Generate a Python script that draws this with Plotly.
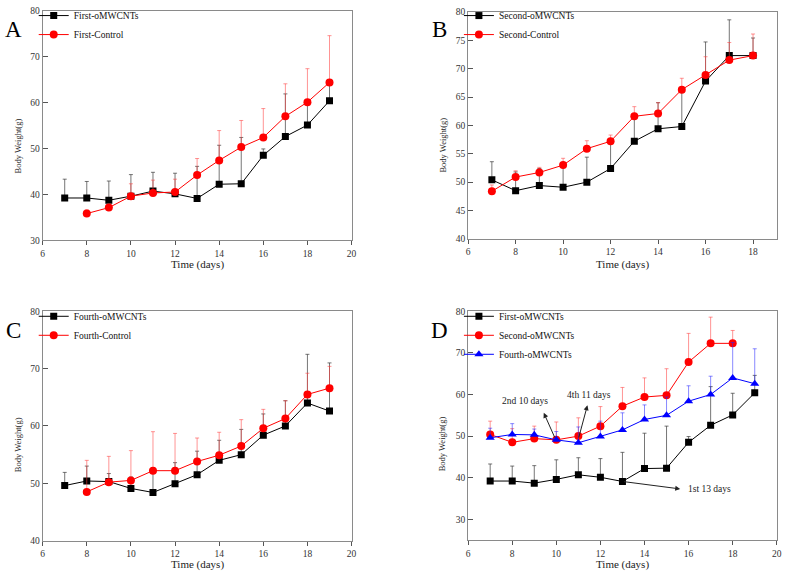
import plotly.graph_objects as go

# ---------------- data ----------------
days_7_19 = [7, 8, 9, 10, 11, 12, 13, 14, 15, 16, 17, 18, 19]
days_8_19 = [8, 9, 10, 11, 12, 13, 14, 15, 16, 17, 18, 19]
days_7_18 = [7, 8, 9, 10, 11, 12, 13, 14, 15, 16, 17, 18]

first_omwcnts = [39.2, 39.2, 38.7, 39.6, 40.7, 40.1, 39.1, 42.2, 42.3, 48.5, 52.6, 55.1, 60.4]
first_omwcnts_err = [4.1, 3.6, 4.2, 4.7, 4.1, 4.5, 7.0, 8.5, 10.1, 1.4, 9.3, 5.2, 4.2]
first_control = [35.8, 37.1, 39.6, 40.3, 40.5, 44.2, 47.4, 50.3, 52.4, 57.0, 60.1, 64.4]
first_control_err = [0.8, 0.7, 2.7, 2.8, 2.8, 3.6, 6.5, 5.8, 6.3, 7.1, 7.3, 10.2]

second_omwcnts = [50.4, 48.5, 49.4, 49.1, 50.0, 52.4, 57.2, 59.4, 59.8, 67.8, 72.3, 72.3]
second_omwcnts_err = [3.2, 3.3, 3.0, 4.3, 4.4, 4.7, 4.5, 4.6, 6.4, 6.9, 6.3, 3.1]
second_control = [48.4, 50.9, 51.7, 53.0, 55.9, 57.2, 61.6, 62.1, 66.3, 68.9, 71.5, 72.3]
second_control_err = [1.1, 1.1, 0.9, 1.2, 1.4, 1.1, 1.7, 1.9, 2.0, 3.2, 3.1, 3.8]

fourth_omwcnts = [49.6, 50.4, 50.3, 49.1, 48.4, 49.9, 51.5, 54.0, 55.0, 58.4, 60.0, 64.0, 62.6]
fourth_omwcnts_err = [2.3, 2.6, 1.4, 2.0, 3.8, 3.7, 4.1, 3.5, 4.4, 3.7, 4.4, 8.5, 8.4]
fourth_control = [48.5, 50.2, 50.5, 52.2, 52.2, 53.8, 54.9, 56.5, 59.6, 61.3, 65.5, 66.6]
fourth_control_err = [5.5, 4.5, 5.2, 6.8, 6.5, 4.1, 4.0, 4.6, 3.3, 3.1, 3.7, 3.8]

panel_letters = ["A", "B", "C", "D"]
x_title = "Time (days)"
y_title = "Body Weight(g)"

# ---------------- style ----------------
SERIF = "Liberation Serif"
BLACK, RED, BLUE = "#000000", "#ff0000", "#0000ff"
ERR_COL = {BLACK: "rgba(60,60,60,0.7)", RED: "rgba(255,60,60,0.55)", BLUE: "rgba(40,40,255,0.55)"}
SYM = {BLACK: "square", RED: "circle", BLUE: "triangle-up"}
MSIZE = {BLACK: 7, RED: 8, BLUE: 8}


def series(x, y, err, name, color, ax, legend):
    return go.Scatter(
        x=x, y=y, name=name, mode="lines+markers",
        xaxis="x" + ax, yaxis="y" + ax, legend=legend,
        line=dict(color=color, width=1),
        marker=dict(symbol=SYM[color], size=MSIZE[color], color=color,
                    line=dict(width=0)),
        error_y=dict(type="data", array=err, arrayminus=[0] * len(err),
                     symmetric=False, color=ERR_COL[color], thickness=1, width=2),
    )


fig = go.Figure()
fig.add_trace(series(days_7_19, first_omwcnts, first_omwcnts_err, "First-oMWCNTs", BLACK, "", "legend"))
fig.add_trace(series(days_8_19, first_control, first_control_err, "First-Control", RED, "", "legend"))
fig.add_trace(series(days_7_18, second_omwcnts, second_omwcnts_err, "Second-oMWCNTs", BLACK, "2", "legend2"))
fig.add_trace(series(days_7_18, second_control, second_control_err, "Second-Control", RED, "2", "legend2"))
fig.add_trace(series(days_7_19, fourth_omwcnts, fourth_omwcnts_err, "Fourth-oMWCNTs", BLACK, "3", "legend3"))
fig.add_trace(series(days_8_19, fourth_control, fourth_control_err, "Fourth-Control", RED, "3", "legend3"))
fig.add_trace(series(days_7_19, first_omwcnts, first_omwcnts_err, "First-oMWCNTs", BLACK, "4", "legend4"))
fig.add_trace(series(days_7_18, second_omwcnts, second_omwcnts_err, "Second-oMWCNTs", RED, "4", "legend4"))
fig.add_trace(series(days_7_19, fourth_omwcnts, fourth_omwcnts_err, "Fourth-oMWCNTs", BLUE, "4", "legend4"))

W, H = 790, 580


def px_x(p):
    return p / W


def px_y(p):
    return 1 - p / H


axis_common = dict(
    showline=True, linecolor="#8a8a8a", linewidth=1, mirror=True,
    showgrid=False, zeroline=False,
    tickfont=dict(family=SERIF, size=9.5, color="#333333"),
    tickcolor="#555555",
)
xcommon = dict(axis_common, ticks="outside", ticklen=4, dtick=2, tick0=6)
ycommon = dict(axis_common, ticks="inside", ticklen=5)

left_dom = [px_x(41), px_x(352.7)]
right_dom = [px_x(470.3), px_x(781.7)]
top_dom = [px_y(239.3), px_y(6)]
bot_dom = [px_y(545), px_y(311.7)]

layout_axes = dict(
    xaxis=dict(xcommon, domain=left_dom, range=[6, 20], anchor="y"),
    yaxis=dict(ycommon, domain=top_dom, range=[30, 80], dtick=10, anchor="x"),
    xaxis2=dict(xcommon, domain=right_dom, range=[6, 19], anchor="y2"),
    yaxis2=dict(ycommon, domain=[px_y(238), px_y(7)], range=[40, 80], dtick=5, anchor="x2"),
    xaxis3=dict(xcommon, domain=left_dom, range=[6, 20], anchor="y3"),
    yaxis3=dict(ycommon, domain=bot_dom, range=[40, 80], dtick=10, anchor="x3"),
    xaxis4=dict(xcommon, domain=right_dom, range=[6, 20], anchor="y4"),
    yaxis4=dict(ycommon, domain=[px_y(544.5), px_y(311.7)], range=[25, 80], dtick=10, tick0=30, anchor="x4"),
)

legend_common = dict(
    bgcolor="rgba(0,0,0,0)", borderwidth=0, xanchor="left", yanchor="top",
    font=dict(family=SERIF, size=9.5, color="#111111"), itemwidth=30,
    tracegroupgap=0,
)

annotations = []
# panel letters
for letter, (lx, ly) in zip(panel_letters, [(12, 25), (441, 25), (12, 331), (441, 331)]):
    annotations.append(dict(text=letter, x=px_x(lx), y=px_y(ly), xref="paper", yref="paper",
                            showarrow=False, xanchor="center", yanchor="middle",
                            font=dict(family=SERIF, size=23, color="#000000")))
# axis titles
for (tx, ty) in [(197, 264), (626, 264), (197, 569), (626, 569)]:
    annotations.append(dict(text=x_title, x=px_x(tx), y=px_y(ty), xref="paper", yref="paper",
                            showarrow=False, xanchor="center", yanchor="middle",
                            font=dict(family=SERIF, size=11, color="#222222")))
for (tx, ty) in [(16, 143), (444, 143), (16, 447), (444, 447)]:
    annotations.append(dict(text=y_title, x=px_x(tx), y=px_y(ty), xref="paper", yref="paper",
                            showarrow=False, xanchor="center", yanchor="middle", textangle=-90,
                            font=dict(family=SERIF, size=8.5, color="#222222")))

# arrows and notes in panel D
note_font = dict(family=SERIF, size=9.5, color="#222222")
annotations += [
    dict(text="2nd 10 days", x=8.56, y=58.4, xref="x4", yref="y4", showarrow=False, font=note_font),
    dict(text="", x=9.43, y=55.6, ax=9.96, ay=49.3, xref="x4", yref="y4", axref="x4", ayref="y4",
         showarrow=True, arrowhead=2, arrowsize=1, arrowwidth=1, arrowcolor="#222222"),
    dict(text="4th 11 days", x=11.46, y=59.9, xref="x4", yref="y4", showarrow=False, font=note_font),
    dict(text="", x=11.41, y=57.4, ax=11.0, ay=49.3, xref="x4", yref="y4", axref="x4", ayref="y4",
         showarrow=True, arrowhead=2, arrowsize=1, arrowwidth=1, arrowcolor="#222222"),
    dict(text="1st 13 days", x=15.88, y=37.4, xref="x4", yref="y4", showarrow=False,
         xanchor="left", font=note_font),
    dict(text="", x=15.62, y=37.3, ax=13.0, ay=39.1, xref="x4", yref="y4", axref="x4", ayref="y4",
         showarrow=True, arrowhead=2, arrowsize=1, arrowwidth=1, arrowcolor="#222222"),
]

fig.update_layout(
    width=W, height=H,
    margin=dict(l=0, r=0, t=0, b=0),
    paper_bgcolor="white", plot_bgcolor="white",
    font=dict(family=SERIF),
    showlegend=True,
    legend=dict(legend_common, x=px_x(32), y=px_y(-4)),
    legend2=dict(legend_common, x=px_x(461), y=px_y(-4)),
    legend3=dict(legend_common, x=px_x(32), y=px_y(302)),
    legend4=dict(legend_common, x=px_x(461), y=px_y(302)),
    annotations=annotations,
    **layout_axes,
)

fig.write_html(
    "out.html",
    config={"displayModeBar": False},
    post_script="document.body.style.margin='0';document.body.style.overflow='hidden';",
)
